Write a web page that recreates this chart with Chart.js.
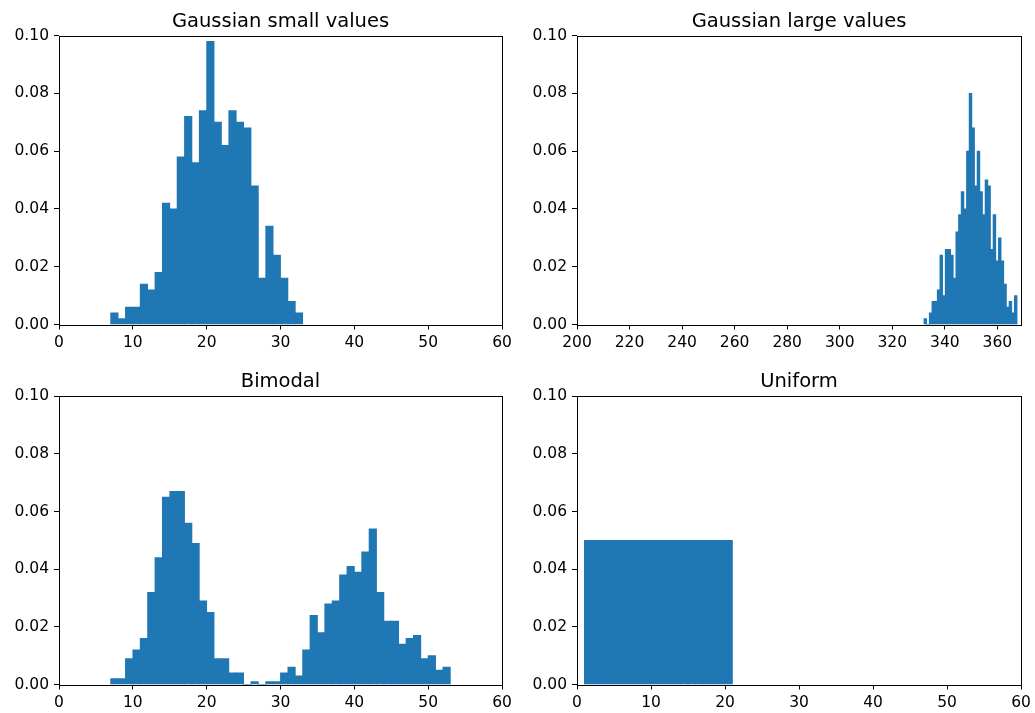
<!DOCTYPE html>
<html>
<head>
<meta charset="utf-8">
<script src="https://cdn.jsdelivr.net/npm/chart.js@4"></script>
<style>
  body { margin: 0; background: #fff; }
  #figure { position: relative; width: 1035px; height: 713px; }
  .panel { position: absolute; }
  .panel canvas { display: block; }
</style>
</head>
<body>
<div id="figure">
  <div class="panel" style="left:0;top:0"><canvas id="small" width="518" height="360"></canvas></div>
  <div class="panel" style="left:518px;top:0"><canvas id="large" width="517" height="360"></canvas></div>
  <div class="panel" style="left:0;top:360px"><canvas id="bimodal" width="518" height="353"></canvas></div>
  <div class="panel" style="left:518px;top:360px"><canvas id="uniform" width="517" height="353"></canvas></div>
</div>
<script>
// histogram densities (one value per bin), bins start at *Start with width *Width
const smallStart = 7, smallWidth = 1;
const smallDensity = [0.004, 0.002, 0.006, 0.006, 0.014, 0.012, 0.018, 0.042, 0.040, 0.058,
  0.072, 0.056, 0.074, 0.098, 0.070, 0.062, 0.074, 0.070, 0.068, 0.048,
  0.016, 0.034, 0.024, 0.016, 0.008, 0.004];

const largeStart = 332.07, largeWidth = 1.012;
const largeDensity = [0.002, 0, 0.004, 0.008, 0.008, 0.012, 0.024, 0.010, 0.026, 0.026,
  0.024, 0.016, 0.032, 0.038, 0.046, 0.040, 0.060, 0.080, 0.068, 0.048,
  0.060, 0.046, 0.038, 0.050, 0.048, 0.026, 0.038, 0.022, 0.030, 0.022,
  0.014, 0.006, 0.008, 0.004, 0.010];

const bimodalStart = 7, bimodalWidth = 1;
const bimodalDensity = [0.002, 0.002, 0.009, 0.012, 0.016, 0.032, 0.044, 0.065, 0.067, 0.067,
  0.056, 0.049, 0.029, 0.025, 0.009, 0.009, 0.004, 0.004, 0, 0.001,
  0, 0.001, 0.001, 0.004, 0.006, 0.003, 0.012, 0.024, 0.018, 0.028,
  0.029, 0.038, 0.041, 0.039, 0.046, 0.054, 0.032, 0.022, 0.022, 0.014,
  0.016, 0.017, 0.009, 0.010, 0.005, 0.006];

const uniformStart = 1, uniformWidth = 1;
const uniformDensity = [0.05, 0.05, 0.05, 0.05, 0.05, 0.05, 0.05, 0.05, 0.05, 0.05,
  0.05, 0.05, 0.05, 0.05, 0.05, 0.05, 0.05, 0.05, 0.05, 0.05];

const BAR_COLOR = '#1f77b4';
const TICK_FONT = { family: 'DejaVu Sans', size: 15.5 };
const TITLE_FONT = { family: 'DejaVu Sans', size: 19.5, weight: 'normal' };

Chart.defaults.font.family = 'DejaVu Sans';
Chart.defaults.color = '#000';

// box around the plot area (all four sides)
const frame = {
  id: 'frame',
  afterDatasetsDraw(chart) {
    const a = chart.chartArea;
    const ctx = chart.ctx;
    const l = Math.round(a.left) + 0.5, r = Math.round(a.right) + 0.5;
    const t = Math.round(a.top) + 0.5, b = Math.round(a.bottom) + 0.5;
    ctx.save();
    ctx.strokeStyle = '#000';
    ctx.lineWidth = 1;
    ctx.strokeRect(l, t, r - l, b - t);
    ctx.restore();
  }
};

function histogram(id, o) {
  const points = o.density.map((d, i) => ({ x: o.start + (i + 0.5) * o.width, y: d }));
  return new Chart(document.getElementById(id), {
    type: 'bar',
    data: {
      datasets: [{
        data: points,
        backgroundColor: BAR_COLOR,
        borderWidth: 0,
        barPercentage: 1,
        categoryPercentage: 1,
        inflateAmount: 0.4
      }]
    },
    options: {
      responsive: false,
      animation: false,
      devicePixelRatio: 1,
      layout: { padding: { right: o.padRight, top: 0, left: 0, bottom: 0 } },
      plugins: {
        legend: { display: false },
        tooltip: { enabled: false },
        title: {
          display: true,
          text: o.title,
          fullSize: false,
          color: '#000',
          font: TITLE_FONT,
          padding: { top: 10.2, bottom: o.titleBottom }
        }
      },
      scales: {
        x: {
          type: 'linear',
          min: o.xmin,
          max: o.xmax,
          offset: false,
          border: { display: false },
          grid: { offset: false, drawOnChartArea: false, color: '#000', tickColor: '#000', tickLength: 5 },
          ticks: { stepSize: o.xstep, includeBounds: false, autoSkip: false, maxRotation: 0, color: '#000', font: TICK_FONT, padding: 4 },
          afterFit: s => { s.height = o.xAxisHeight; }
        },
        y: {
          min: 0,
          max: 0.1,
          border: { display: false },
          grid: { drawOnChartArea: false, color: '#000', tickColor: '#000', tickLength: 5 },
          ticks: { stepSize: 0.02, color: '#000', font: TICK_FONT, padding: 5, callback: v => v.toFixed(2) },
          afterFit: s => { s.width = 59; }
        }
      }
    },
    plugins: [frame]
  });
}

histogram('small', { title: 'Gaussian small values', density: smallDensity, start: smallStart, width: smallWidth,
  xmin: 0, xmax: 60, xstep: 10, padRight: 16, titleBottom: 1.9, xAxisHeight: 35.5 });
histogram('large', { title: 'Gaussian large values', density: largeDensity, start: largeStart, width: largeWidth,
  xmin: 200, xmax: 369, xstep: 20, padRight: 14, titleBottom: 1.9, xAxisHeight: 35.5 });
histogram('bimodal', { title: 'Bimodal', density: bimodalDensity, start: bimodalStart, width: bimodalWidth,
  xmin: 0, xmax: 60, xstep: 10, padRight: 16, titleBottom: 2.7, xAxisHeight: 28.5 });
histogram('uniform', { title: 'Uniform', density: uniformDensity, start: uniformStart, width: uniformWidth,
  xmin: 0, xmax: 60, xstep: 10, padRight: 14, titleBottom: 2.7, xAxisHeight: 28.5 });
</script>
</body>
</html>
